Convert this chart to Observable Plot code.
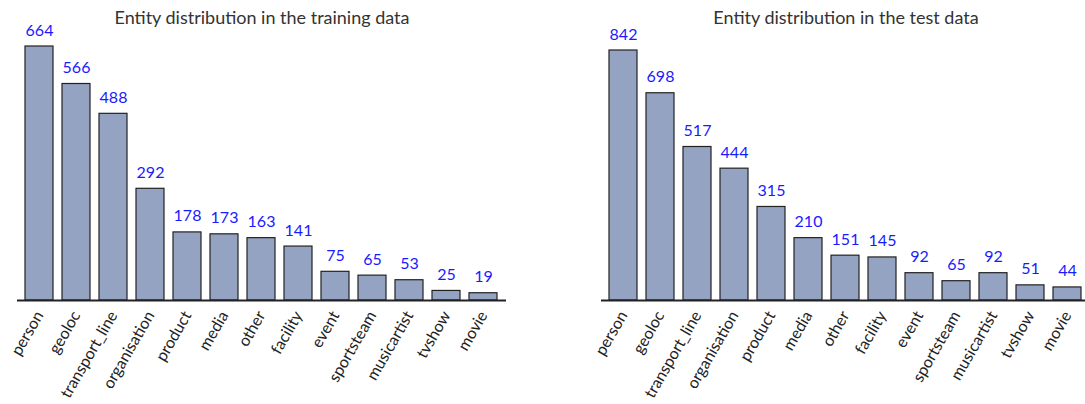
<!DOCTYPE html>
<html>
<head>
<meta charset="utf-8">
<script src="https://cdn.jsdelivr.net/npm/d3@7"></script>
<script src="https://cdn.jsdelivr.net/npm/@observablehq/plot@0.6"></script>
<style>
  html, body { margin: 0; padding: 0; background: #fff; overflow: hidden; }
  #wrap { position: relative; width: 1085px; height: 404px; overflow: hidden; }
  .panel { position: absolute; top: 0; }
</style>
</head>
<body>
<div id="wrap"></div>
<script>
const categories = ["person","geoloc","transport_line","organisation","product","media","other","facility","event","sportsteam","musicartist","tvshow","movie"];
const trainValues = [664,566,488,292,178,173,163,141,75,65,53,25,19];
const testValues = [842,698,517,444,315,210,151,145,92,65,92,51,44];
const titles = ["Entity distribution in the training data", "Entity distribution in the test data"];

const FONT = "Lato, 'Open Sans', sans-serif";

function panel(cats, vals, title, marginTop) {
  const data = cats.map((c, i) => ({c, v: vals[i]}));
  return Plot.plot({
    width: 542, height: 404,
    marginLeft: 17, marginRight: 36, marginTop, marginBottom: 104,
    style: {fontFamily: FONT, fontSize: "16px", color: "#222", background: "transparent", overflow: "visible"},
    x: {domain: cats, paddingInner: 0.23, paddingOuter: 0.13, label: null},
    y: {domain: [0, d3.max(vals)], axis: null},
    marks: [
      Plot.barY(data, {x: "c", y: "v", fill: "#94a3c2", stroke: "#222", strokeWidth: 1.2}),
      Plot.ruleY([0], {stroke: "#222", strokeWidth: 2}),
      Plot.axisX({tickSize: 0, tickPadding: 12, tickRotate: -60, fontSize: 16, fill: "#222", label: null}),
      Plot.text(data, {x: "c", y: "v", text: d => String(d.v), lineAnchor: "bottom", dy: -11, fill: "#1a1aff", fontSize: 16}),
      Plot.text([title], {frameAnchor: "top", lineAnchor: "middle", dy: 18 - marginTop, text: d => d, fill: "#333", fontSize: 18})
    ]
  });
}

const wrap = document.getElementById("wrap");
const left = panel(categories, trainValues, titles[0], 46);
left.classList.add("panel"); left.style.left = "0px";
const right = panel(categories, testValues, titles[1], 50);
right.classList.add("panel"); right.style.left = "584px";
wrap.appendChild(left);
wrap.appendChild(right);
</script>
</body>
</html>
